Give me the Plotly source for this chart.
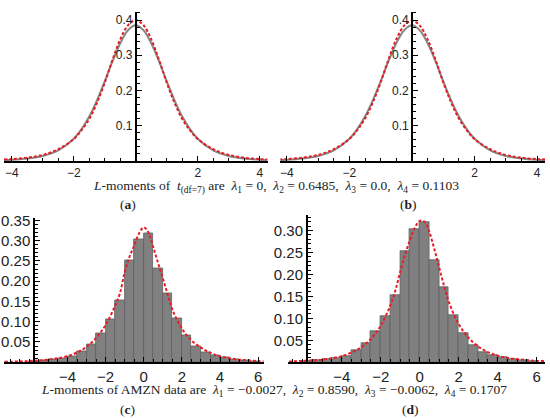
import plotly.graph_objects as go

# ---- panels (a) and (b): t(df=7) density vs fitted density ----
x_top = [-4.25, -4.0, -3.5, -3.0, -2.5, -2.0, -1.75, -1.5, -1.25, -1.0, -0.75, -0.5, -0.25,
         0.0, 0.25, 0.5, 0.75, 1.0, 1.25, 1.5, 1.75, 2.0, 2.5, 3.0, 3.5, 4.0, 4.25]
t7_density = [0.0026, 0.0033, 0.0067, 0.0141, 0.030, 0.063, 0.090, 0.126, 0.172, 0.226, 0.283,
              0.334, 0.371, 0.385, 0.371, 0.334, 0.283, 0.226, 0.172, 0.126, 0.090, 0.063,
              0.030, 0.0141, 0.0067, 0.0033, 0.0026]
fit_a = [0.004, 0.005, 0.009, 0.017, 0.033, 0.062, 0.087, 0.119, 0.165, 0.222, 0.287,
         0.345, 0.385, 0.400, 0.385, 0.345, 0.287, 0.222, 0.165, 0.119, 0.087, 0.062,
         0.033, 0.017, 0.009, 0.005, 0.004]
fit_b = [0.004, 0.005, 0.009, 0.017, 0.033, 0.062, 0.087, 0.120, 0.166, 0.223, 0.288,
         0.345, 0.384, 0.398, 0.384, 0.345, 0.288, 0.223, 0.166, 0.120, 0.087, 0.062,
         0.033, 0.017, 0.009, 0.005, 0.004]

# ---- panels (c) and (d): AMZN histogram vs fitted densities ----
bin_left = [-6.0, -5.5, -5.0, -4.5, -4.0, -3.5, -3.0, -2.5, -2.0, -1.5, -1.0, -0.5,
            0.0, 0.5, 1.0, 1.5, 2.0, 2.5, 3.0, 3.5, 4.0, 4.5, 5.0, 5.5]
bin_width = 0.5
amzn_density = [0.003, 0.004, 0.006, 0.009, 0.014, 0.027, 0.044, 0.070, 0.105, 0.152, 0.252, 0.303,
                0.318, 0.232, 0.170, 0.108, 0.066, 0.040, 0.024, 0.017, 0.012, 0.006, 0.004, 0.003]

x_c = [-7.3, -6.5, -6.0, -5.5, -5.0, -4.5, -4.0, -3.5, -3.0, -2.5, -2.0, -1.5, -1.25, -1.0,
       -0.75, -0.5, -0.25, 0.0, 0.25, 0.5, 0.75, 1.0, 1.25, 1.5, 2.0, 2.5, 3.0, 3.5, 4.0,
       4.5, 5.0, 5.5, 6.0, 6.3]
fit_c = [0.001, 0.002, 0.003, 0.0045, 0.0065, 0.010, 0.015, 0.024, 0.038, 0.060, 0.092, 0.140,
         0.170, 0.222, 0.260, 0.288, 0.318, 0.333, 0.320, 0.283, 0.245, 0.207, 0.168, 0.130,
         0.083, 0.054, 0.036, 0.023, 0.015, 0.010, 0.0065, 0.0045, 0.003, 0.0025]
x_d = [-6.7, -6.5, -6.0, -5.5, -5.0, -4.5, -4.0, -3.5, -3.0, -2.5, -2.0, -1.5, -1.25, -1.0,
       -0.75, -0.5, -0.25, 0.0, 0.25, 0.5, 0.75, 1.0, 1.25, 1.5, 2.0, 2.5, 3.0, 3.5, 4.0,
       4.5, 5.0, 5.5, 6.0, 6.4]
fit_d = [0.0015, 0.002, 0.003, 0.0045, 0.006, 0.009, 0.014, 0.022, 0.034, 0.053, 0.083, 0.130,
         0.163, 0.205, 0.245, 0.278, 0.306, 0.322, 0.320, 0.296, 0.258, 0.216, 0.174, 0.137,
         0.087, 0.056, 0.036, 0.023, 0.015, 0.010, 0.007, 0.005, 0.003, 0.003]

W, H = 550, 418
GRAY = "rgb(135,135,135)"
RED = "rgb(232,28,36)"
TICKFONT_TOP = dict(family="Liberation Sans", size=12, color="#222")
TICKFONT_BOT = dict(family="Liberation Sans", size=15, color="#222")

# panel boxes in pixels: left, right, top, bottom
panels = {
    "a": dict(box=(3, 267, 5, 156.5), xr=[-4.25, 4.25], yr=[0, 0.423], yaxis_at=0.0),
    "b": dict(box=(280, 545, 5, 156.5), xr=[-4.2, 4.25], yr=[0, 0.423], yaxis_at=0.0),
    "c": dict(box=(3, 263, 215, 361.3), xr=[-7.33, 6.28], yr=[0, 0.355], yaxis_at=-5.75),
    "d": dict(box=(288, 545, 211.7, 361.3), xr=[-6.73, 6.43], yr=[0, 0.335], yaxis_at=-5.79),
}

fig = go.Figure()

fig.add_trace(go.Scatter(x=x_top, y=t7_density, mode="lines", line=dict(color=GRAY, width=2, shape="spline"),
                         xaxis="x", yaxis="y"))
fig.add_trace(go.Scatter(x=x_top, y=fit_a, mode="lines",
                         line=dict(color=RED, width=2, dash="3px,2px", shape="spline"), xaxis="x", yaxis="y"))
fig.add_trace(go.Scatter(x=x_top, y=t7_density, mode="lines", line=dict(color=GRAY, width=2, shape="spline"),
                         xaxis="x2", yaxis="y2"))
fig.add_trace(go.Scatter(x=x_top, y=fit_b, mode="lines",
                         line=dict(color=RED, width=2, dash="3px,2px", shape="spline"), xaxis="x2", yaxis="y2"))

bin_mid = [b + bin_width / 2 for b in bin_left]
for xa, ya, xs, ys in (("x3", "y3", x_c, fit_c), ("x4", "y4", x_d, fit_d)):
    fig.add_trace(go.Bar(x=bin_mid, y=amzn_density, width=bin_width,
                         marker=dict(color="rgb(128,128,128)", line=dict(color="rgb(95,95,95)", width=0.8)),
                         xaxis=xa, yaxis=ya))
    fig.add_trace(go.Scatter(x=xs, y=ys, mode="lines",
                             line=dict(color=RED, width=2, dash="3px,2px", shape="spline"),
                             xaxis=xa, yaxis=ya))

layout = {}
for i, key in enumerate("abcd", start=1):
    p = panels[key]
    left, right, top, bottom = p["box"]
    xd = [left / W, right / W]
    yd = [1 - bottom / H, 1 - top / H]
    # paper position of the vertical axis
    frac = (p["yaxis_at"] - p["xr"][0]) / (p["xr"][1] - p["xr"][0])
    ypos = xd[0] + frac * (xd[1] - xd[0])
    top_row = key in "ab"
    sfx = "" if i == 1 else str(i)
    layout["xaxis" + sfx] = dict(
        domain=xd, range=p["xr"], anchor="y" + sfx,
        showgrid=False, zeroline=False, showline=True, linecolor="black", linewidth=1.6,
        ticks="inside", ticklen=5, tickwidth=1, tickcolor="black",
        tickvals=[-4, -2, 2, 4] if top_row else [-4, -2, 0, 2, 4, 6],
        ticktext=["−4", "−2", "2", "4"] if top_row else ["−4", "−2", "0", "2", "4", "6"],
        tickfont=TICKFONT_TOP if top_row else TICKFONT_BOT,
        minor=dict(ticks="inside", ticklen=3, tickcolor="black", dtick=0.5, tick0=0),
        fixedrange=True,
    )
    layout["yaxis" + sfx] = dict(
        domain=yd, range=p["yr"], anchor="free", position=ypos,
        showgrid=False, zeroline=False, showline=True, linecolor="black", linewidth=1.6,
        ticks="inside", ticklen=5, tickwidth=1, tickcolor="black",
        tickvals=[0.1, 0.2, 0.3, 0.4] if top_row else [0.05, 0.10, 0.15, 0.20, 0.25, 0.30, 0.35],
        tickformat=".1f" if top_row else ".2f",
        tickfont=TICKFONT_TOP if top_row else TICKFONT_BOT,
        minor=dict(ticks="inside", ticklen=3, tickcolor="black", dtick=0.02 if top_row else 0.01, tick0=0),
        fixedrange=True,
    )

CAP = dict(family="Liberation Serif", size=13.5, color="#222")
cap_top = ("<i>L</i>-moments of  <i>t</i><sub>(df=7)</sub> are  <i>λ</i><sub>1</sub> = 0,  "
           "<i>λ</i><sub>2</sub> = 0.6485,  <i>λ</i><sub>3</sub> = 0.0,  <i>λ</i><sub>4</sub> = 0.1103")
cap_bot = ("<i>L</i>-moments of AMZN data are  <i>λ</i><sub>1</sub> = −0.0027,  "
           "<i>λ</i><sub>2</sub> = 0.8590,  <i>λ</i><sub>3</sub> = −0.0062,  <i>λ</i><sub>4</sub> = 0.1707")
annotations = [
    dict(text=cap_top, x=275 / W, y=1 - 183 / H),
    dict(text="(<b>a</b>)", x=127 / W, y=1 - 201 / H),
    dict(text="(<b>b</b>)", x=408 / W, y=1 - 201 / H),
    dict(text=cap_bot, x=273 / W, y=1 - 390 / H),
    dict(text="(<b>c</b>)", x=127 / W, y=1 - 409 / H),
    dict(text="(<b>d</b>)", x=410 / W, y=1 - 409 / H),
]
for a in annotations:
    a.update(xref="paper", yref="paper", showarrow=False, font=CAP, xanchor="center", yanchor="middle")

fig.update_layout(
    width=W, height=H, margin=dict(l=0, r=0, t=0, b=0),
    paper_bgcolor="white", plot_bgcolor="white",
    showlegend=False, bargap=0, annotations=annotations, **layout,
)

# drop the page's default body margin so the figure fills the window exactly
fig.write_html("out.html", config={"displayModeBar": False},
               post_script="document.body.style.margin='0px';")
